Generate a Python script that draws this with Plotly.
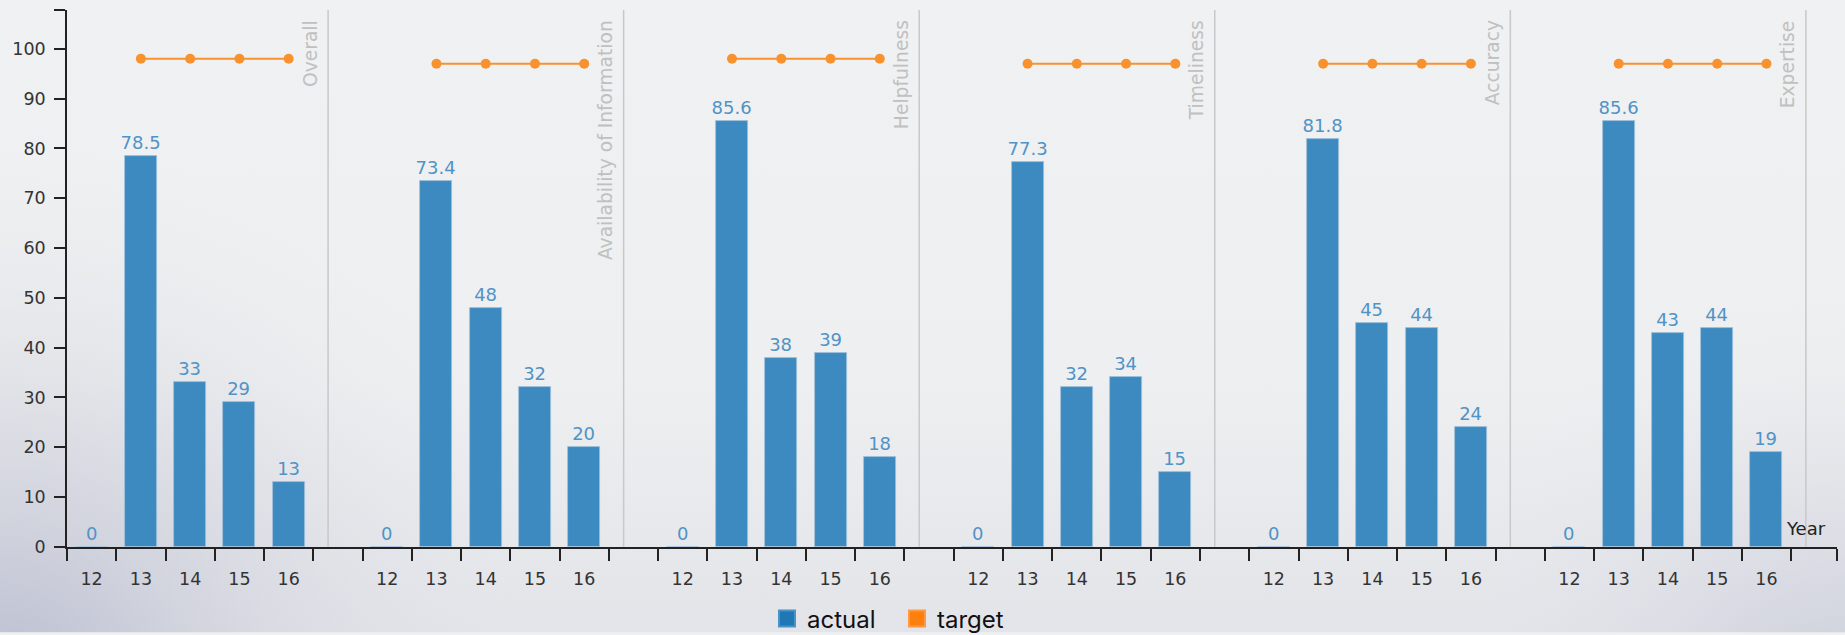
import base64
import plotly.graph_objects as go

# ---- data -----------------------------------------------------------------
years = ["12", "13", "14", "15", "16"]
target_years = ["13", "14", "15", "16"]
groups = ["Overall", "Availability of Information", "Helpfulness",
          "Timeliness", "Accuracy", "Expertise"]

actual_overall = [0, 78.5, 33, 29, 13]
actual_availability = [0, 73.4, 48, 32, 20]
actual_helpfulness = [0, 85.6, 38, 39, 18]
actual_timeliness = [0, 77.3, 32, 34, 15]
actual_accuracy = [0, 81.8, 45, 44, 24]
actual_expertise = [0, 85.6, 43, 44, 19]

target_overall = [98, 98, 98, 98]
target_availability = [97, 97, 97, 97]
target_helpfulness = [98, 98, 98, 98]
target_timeliness = [97, 97, 97, 97]
target_accuracy = [97, 97, 97, 97]
target_expertise = [97, 97, 97, 97]

actual_by_group = [actual_overall, actual_availability, actual_helpfulness,
                   actual_timeliness, actual_accuracy, actual_expertise]
target_by_group = [target_overall, target_availability, target_helpfulness,
                   target_timeliness, target_accuracy, target_expertise]

# ---- layout geometry ------------------------------------------------------
W, H = 1845, 635
M_L, M_R, M_T, M_B = 67, 8, 10, 86
PLOT_W = W - M_L - M_R
PLOT_H = H - M_T - M_B
BAND_PX = 49.26                       # width of one year band in pixels
SLOTS = len(years) + 1                # five years + one spacer per group
X_END = PLOT_W / BAND_PX
Y_MAX = max(max(t) for t in target_by_group) * 1.1

BAR_COLOR = "#3c8abf"
LABEL_COLOR = "#5193c6"
TARGET_COLOR = "#f8922e"
FONT = "DejaVu Sans, Verdana, sans-serif"
LEGEND_FONT = "Inter, Liberation Sans, Arial, sans-serif"


def slot(g, label):
    """Centre of a year band inside group g, in band units."""
    return g * SLOTS + years.index(label) + 0.5


fig = go.Figure()

for g, name in enumerate(groups):
    vals = actual_by_group[g]
    fig.add_trace(go.Bar(
        x=[slot(g, y) for y in years],
        y=vals,
        width=0.65,
        marker=dict(color=BAR_COLOR, line=dict(color="#9fc0da", width=0.8)),
        text=[f"{v:g}" for v in vals],
        textposition="outside",
        constraintext="none",
        textfont=dict(family=FONT, size=18, color=LABEL_COLOR),
        cliponaxis=False,
        showlegend=False,
        hoverinfo="skip",
    ))
    fig.add_trace(go.Scatter(
        x=[slot(g, y) for y in target_years],
        y=target_by_group[g],
        mode="lines+markers",
        line=dict(color=TARGET_COLOR, width=2),
        marker=dict(color=TARGET_COLOR, size=10),
        showlegend=False,
        hoverinfo="skip",
    ))

# legend entries
for name, color, edge in [("actual", "#1f77b4", "#4a93c6"),
                          ("target", "#ff7f0e", "#ff9a40")]:
    fig.add_trace(go.Scatter(
        x=[None], y=[None], mode="markers", name=name,
        marker=dict(symbol="square", size=16, color=color,
                    line=dict(color=edge, width=2)),
    ))

# group separators and rotated group titles
shapes = []
annotations = []
for g, name in enumerate(groups):
    sep_x = g * SLOTS + len(years) + 0.3
    shapes.append(dict(type="line", xref="x", yref="paper",
                       x0=sep_x, x1=sep_x, y0=0, y1=1,
                       line=dict(color="#c8c8c8", width=1.5), layer="below"))
    annotations.append(dict(
        x=sep_x, xref="x", xshift=-17.5, xanchor="center",
        y=1 - 8 / PLOT_H, yref="paper", yanchor="top",
        text=name, textangle=-90, showarrow=False,
        font=dict(family=FONT, size=18.7, color="#c0c0c0"),
    ))

annotations.append(dict(
    x=1, xref="paper", xanchor="right", xshift=-9,
    y=0, yref="paper", yanchor="bottom", yshift=6,
    text="Year", showarrow=False,
    font=dict(family=FONT, size=18, color="#222"),
))

# soft background wash, darker towards the lower corners
svg = f"""<svg xmlns='http://www.w3.org/2000/svg' width='{W}' height='{H}' viewBox='0 0 {W} {H}' preserveAspectRatio='none'>
<defs>
<linearGradient id='v' x1='0' y1='0' x2='0' y2='1'>
<stop offset='0' stop-color='#f0f1f2'/><stop offset='0.6' stop-color='#eeeff0'/><stop offset='1' stop-color='#e3e4e9'/>
</linearGradient>
<radialGradient id='bl' gradientUnits='userSpaceOnUse' cx='0' cy='700' r='560'>
<stop offset='0' stop-color='#b4b8cc' stop-opacity='0.95'/><stop offset='0.45' stop-color='#cfd1dc' stop-opacity='0.6'/><stop offset='1' stop-color='#e8e9ee' stop-opacity='0'/>
</radialGradient>
<radialGradient id='br' gradientUnits='userSpaceOnUse' cx='{W}' cy='720' r='420'>
<stop offset='0' stop-color='#c4c7d6' stop-opacity='0.9'/><stop offset='1' stop-color='#e8e9ee' stop-opacity='0'/>
</radialGradient>
</defs>
<rect width='{W}' height='{H}' fill='url(#v)'/>
<rect width='{W}' height='{H}' fill='url(#bl)'/>
<rect width='{W}' height='{H}' fill='url(#br)'/>
</svg>"""
bg_src = "data:image/svg+xml;base64," + base64.b64encode(svg.encode()).decode()

edge_ticks = [float(k) for k in range(len(groups) * SLOTS)] + [X_END]
center_ticks = [slot(g, y) for g in range(len(groups)) for y in years]
center_text = [y for g in range(len(groups)) for y in years]

fig.update_layout(
    width=W, height=H,
    margin=dict(l=M_L, r=M_R, t=M_T, b=M_B, pad=0),
    paper_bgcolor="#eff0f1",
    plot_bgcolor="rgba(0,0,0,0)",
    font=dict(family=FONT, color="#333"),
    bargap=0,
    shapes=shapes,
    annotations=annotations,
    images=[dict(source=bg_src, xref="paper", yref="paper",
                 x=-M_L / PLOT_W, y=1 + M_T / PLOT_H,
                 sizex=W / PLOT_W, sizey=H / PLOT_H,
                 xanchor="left", yanchor="top", sizing="stretch",
                 layer="below")],
    xaxis=dict(
        range=[0, X_END], showgrid=False, zeroline=False,
        showline=True, linecolor="#222", linewidth=1.5,
        tickmode="array", tickvals=center_ticks, ticktext=center_text,
        ticks="outside", ticklen=12, tickcolor="rgba(0,0,0,0)",
        ticklabelstandoff=3,
        tickfont=dict(family=FONT, size=17.5, color="#333"),
        minor=dict(tickmode="array", tickvals=edge_ticks, ticks="outside",
                   ticklen=12, tickwidth=1.5, tickcolor="#222"),
        fixedrange=True,
    ),
    yaxis=dict(
        range=[0, Y_MAX], showgrid=False, zeroline=False,
        showline=True, linecolor="#222", linewidth=1.5,
        tickmode="array", tickvals=list(range(0, 101, 10)),
        ticks="outside", ticklen=11, tickwidth=1.5, tickcolor="#222",
        ticklabelstandoff=5,
        tickfont=dict(family=FONT, size=17.5, color="#333"),
        minor=dict(tickmode="array", tickvals=[Y_MAX], ticks="outside",
                   ticklen=11, tickwidth=1.5, tickcolor="#222"),
        fixedrange=True,
    ),
    legend=dict(
        orientation="h", xref="container", yref="container",
        x=897 / W, xanchor="center", y=1 - 619 / H, yanchor="middle",
        entrywidth=85, entrywidthmode="pixels",
        font=dict(family=LEGEND_FONT, size=24, color="#111"),
        bgcolor="rgba(0,0,0,0)",
    ),
)

fig.write_html("out.html")
